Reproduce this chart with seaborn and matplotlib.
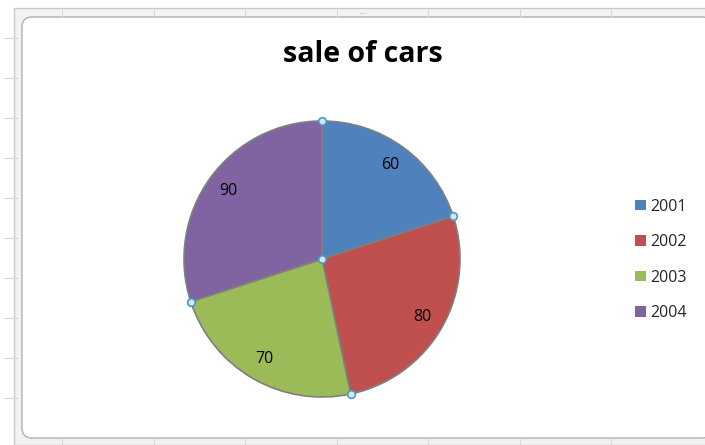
import numpy as np
import matplotlib
matplotlib.use("Agg")
import matplotlib.pyplot as plt
import seaborn as sns
from matplotlib.patches import FancyBboxPatch, Rectangle, Patch

# ---- data ----
years = ["2001", "2002", "2003", "2004"]
sales = [60, 80, 70, 90]
title = "sale of cars"
colors = ["#4F81BD", "#C0504D", "#9BBB59", "#8064A2"]

sns.set_theme(style="white")
plt.rcParams["font.family"] = ["Open Sans", "DejaVu Sans"]

W, H = 705, 445
fig = plt.figure(figsize=(W / 100, H / 100), dpi=100)
fig.patch.set_facecolor("white")

def px(x0, y0, w, h):
    return [x0 / W, 1 - (y0 + h) / H, w / W, h / H]

# spreadsheet background hint (grid lines outside chart)
bg = fig.add_axes([0, 0, 1, 1], zorder=-10)
bg.set_xlim(0, W); bg.set_ylim(H, 0); bg.axis("off")
for x in [62, 154, 245, 337, 428, 520, 611]:
    bg.plot([x, x], [8, 17], color="#d8d8d8", lw=0.8)
    bg.plot([x, x], [438, 445], color="#d8d8d8", lw=0.8)
for y in [38, 78, 118, 158, 198, 238, 278, 318, 358, 398]:
    bg.plot([4, 18], [y, y], color="#d8d8d8", lw=0.8)
bg.add_patch(Rectangle((14, 8), 700, 437, facecolor="#f2f2f2", edgecolor="#c8c8c8", lw=1))
bg.add_patch(FancyBboxPatch((22, 17), 690, 421, boxstyle="round,pad=0,rounding_size=10",
                            facecolor="white", edgecolor="#b0b0b0", lw=1))
bg.text(363, 12, "....", ha="center", va="center", fontsize=5, color="#999999")

# ---- pie ----
cx, cy, r = 322, 259, 138
ax = fig.add_axes(px(cx - r, cy - r, 2 * r, 2 * r))
wedges, texts = ax.pie(sales, colors=colors, startangle=90, counterclock=False,
                       labels=[str(v) for v in sales], labeldistance=0.84,
                       wedgeprops=dict(edgecolor="#7f7f7f", linewidth=1.2),
                       textprops=dict(fontsize=11.5, color="black"))
for t in texts:
    t.set_horizontalalignment("center")
    t.set_verticalalignment("center")
ax.set_xlim(-1, 1); ax.set_ylim(-1, 1)
ax.set_aspect("equal")
ax.axis("off")

# selection handles at slice boundaries
angles = 90 - 360 * np.cumsum([0] + sales[:-1]) / sum(sales)
hx = np.concatenate([[0], np.cos(np.radians(angles))])
hy = np.concatenate([[0], np.sin(np.radians(angles))])
ax.scatter(hx, hy, s=30, facecolor="#cfe8f3", edgecolor="#4f95c4", linewidth=1.2,
           zorder=5, clip_on=False)

# ---- title ----
fig.text(363 / W, 1 - 55 / H, title, ha="center", va="center",
         fontsize=20.5, fontweight="bold", color="black")

# ---- legend ----
handles = [Patch(facecolor=c, edgecolor="none") for c in colors]
fig.legend(handles, years, loc="center left", bbox_to_anchor=(621 / W, 1 - 260 / H),
           frameon=False, fontsize=11.5, handlelength=0.65, handleheight=0.65,
           handletextpad=0.3, labelspacing=1.22)

fig.savefig("out.png", dpi=100)
